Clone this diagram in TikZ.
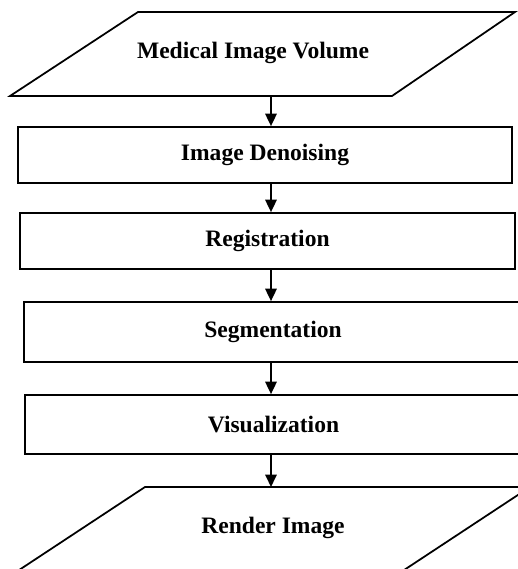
\documentclass[tikz,border=0pt]{standalone}
\usepackage{fontspec}
\setmainfont{Liberation Serif}
\usetikzlibrary{arrows.meta}

\begin{document}
\begin{tikzpicture}[x=0.02cm,y=-0.02cm,
  stage/.style={draw,line width=1pt,inner sep=0pt,minimum height=1.12cm,font=\fontsize{13.4}{16}\selectfont\bfseries},
  iotext/.style={inner sep=0pt,font=\fontsize{13.4}{16}\selectfont\bfseries},
  flow/.style={line width=1pt,-{Triangle[length=0.25cm,width=0.23cm]}}]
\useasboundingbox (0,0) rectangle (518,569);
\clip (0,0) rectangle (518,569);
\coordinate (V1) at (10,96);
\coordinate (V2) at (138,12);
\coordinate (V3) at (515,12);
\coordinate (V4) at (392,96);
\coordinate (R1) at (145,487);
\coordinate (R2) at (530,487);
\coordinate (axis) at (271,0);
\draw[line width=1pt] (V1)--(V2)--(V3)--(V4)--cycle;
\node[iotext] (vol) at (253,52.5) {Medical Image Volume};
\node[stage,minimum width=9.88cm] (den) at (265,155) {Image Denoising};
\node[stage,minimum width=9.9cm] (reg) at (267.5,241) {Registration};
\node[stage,minimum width=9.96cm,minimum height=1.2cm] (seg) at (273,332) {Segmentation};
\node[stage,minimum width=9.94cm,minimum height=1.18cm] (vis) at (273.5,424.5) {Visualization};
\draw[line width=1pt] (8.5,577)--(R1)--(R2)--(393.5,577);
\node[iotext] (ren) at (273,527.5) {Render Image};
%\draw[red] (axis) -- (271,569);
\draw[flow] (V1 -| axis) -- (den.north -| axis);
\draw[flow] (den.south -| axis) -- (reg.north -| axis);
\draw[flow] (reg.south -| axis) -- (seg.north -| axis);
\draw[flow] (seg.south -| axis) -- (vis.north -| axis);
\draw[flow] (vis.south -| axis) -- (R1 -| axis);
\end{tikzpicture}
\end{document}
